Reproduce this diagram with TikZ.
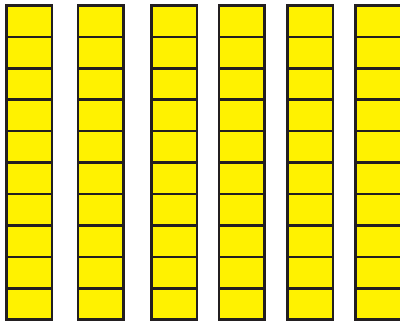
\documentclass[tikz,border=0pt]{standalone}
\usepackage{xcolor}
\usepackage{tikz}
\definecolor{CellYellow}{HTML}{FFF200}
\definecolor{CellLine}{HTML}{231F20}

\begin{document}
\begin{tikzpicture}[x=1pt,y=1pt]
\path[use as bounding box] (0,0) rectangle (400,325);
\foreach \colx in {6.3,78.0,151.3,219.0,287.3,355.7}{
  \foreach \row in {0,...,9}{
    \filldraw[fill=CellYellow,draw=CellLine,line width=2.6pt] (\colx,5.3+\row*31.42) rectangle ++(45.7,31.42);
  }
}
\end{tikzpicture}
\end{document}
